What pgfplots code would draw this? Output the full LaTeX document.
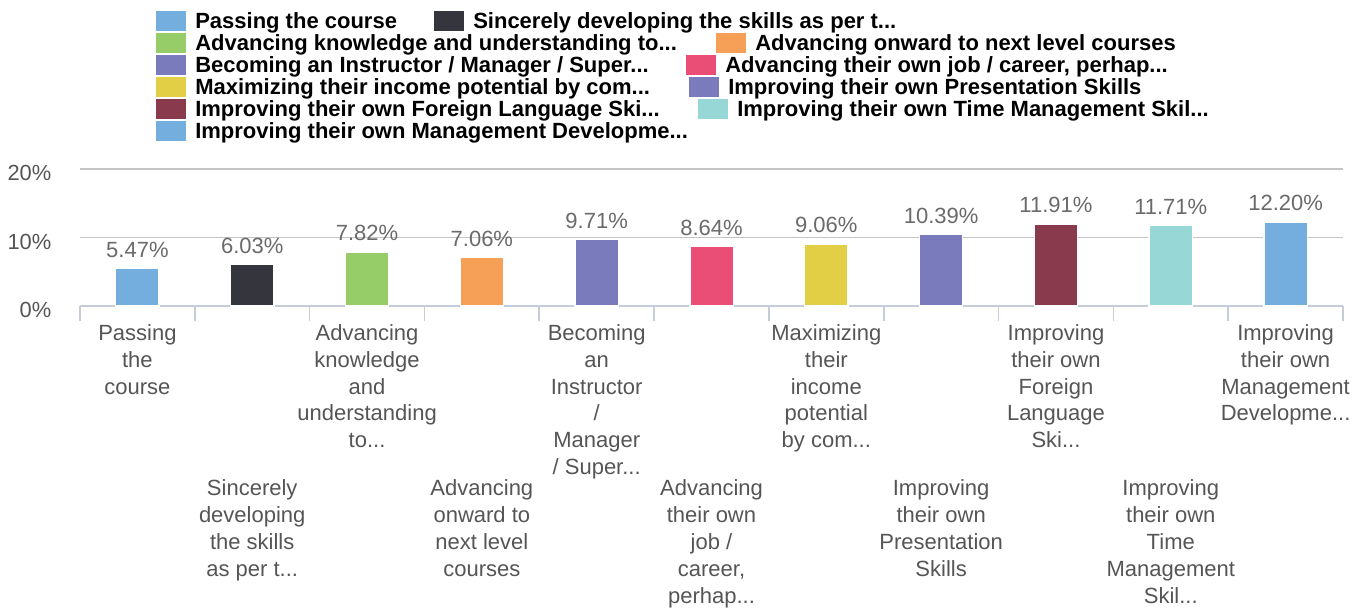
\documentclass[border=0pt]{standalone}
\usepackage{fontspec}
\setmainfont{Liberation Sans}
\usepackage{pgfplots}
\pgfplotsset{compat=1.18}
\newcommand{\dd}{...}
\definecolor{cA}{HTML}{74AEDF}
\definecolor{cB}{HTML}{35353D}
\definecolor{cC}{HTML}{97CD69}
\definecolor{cD}{HTML}{F69F56}
\definecolor{cE}{HTML}{7A7BBD}
\definecolor{cF}{HTML}{EA4E77}
\definecolor{cG}{HTML}{E3CF46}
\definecolor{cH}{HTML}{7A7BBD}
\definecolor{cI}{HTML}{893A4D}
\definecolor{cJ}{HTML}{97D8D7}
\definecolor{cK}{HTML}{74AEDF}
\definecolor{sepc}{HTML}{C6CDD8}
\definecolor{gridc}{HTML}{C4C4C4}
\definecolor{labc}{HTML}{555555}
\definecolor{valc}{HTML}{6A6A6A}
\begin{document}
\begin{tikzpicture}
\useasboundingbox (0,0) rectangle (1023pt,-456.75pt);
\begin{axis}[
  at={(60pt,-229.5pt)}, anchor=south west,
  scale only axis, width=947.25pt, height=102.75pt,
  xmin=-0.5, xmax=10.5, ymin=0, ymax=20,
  clip=false,
  axis x line*=bottom, axis y line*=left,
  x axis line style={-, draw=sepc, line width=1.2pt},
  y axis line style={draw=none},
  ytick={0,10,20}, yticklabels={0\%,10\%,20\%},
  ytick style={draw=none},
  yticklabel style={anchor=east, xshift=-18pt, yshift=-3pt, font=\fontsize{16.4}{19}\selectfont, text=labc},
  ymajorgrids, grid style={draw=gridc, line width=1.1pt},
  xtick={0,...,10},
  xtick style={draw=none},
  xtick align=outside,
  extra x ticks={-0.5,0.5,...,10.5},
  extra x tick labels={},
  extra x tick style={xtick style={draw=sepc, line width=1.2pt}, major tick length=11.25pt, grid=none},
  xticklabel style={anchor=north, align=center, inner sep=0pt, yshift=-9.4pt, font=\fontsize{16.5}{20.1}\selectfont, text=labc},
  xticklabels={
    {Passing\\the\\course},
    {\mbox{}\\[108.5pt]Sincerely\\developing\\the skills\\as per t\dd},
    {Advancing\\knowledge\\and\\understanding\\to\dd},
    {\mbox{}\\[108.5pt]Advancing\\onward to\\next level\\courses},
    {Becoming\\an\\Instructor\\/\\Manager\\/ Super\dd},
    {\mbox{}\\[108.5pt]Advancing\\their own\\job /\\career,\\perhap\dd},
    {Maximizing\\their\\income\\potential\\by com\dd},
    {\mbox{}\\[108.5pt]Improving\\their own\\Presentation\\Skills},
    {Improving\\their own\\Foreign\\Language\\Ski\dd},
    {\mbox{}\\[108.5pt]Improving\\their own\\Time\\Management\\Skil\dd},
    {Improving\\their own\\Management\\Developme\dd}
  },
  /pgf/number format/assume math mode=true,
  nodes near coords={\pgfmathprintnumber[fixed,fixed zerofill,precision=2]{\pgfplotspointmeta}\%},
  every node near coord/.append style={anchor=base, yshift=8.6pt, font=\fontsize{16.5}{19}\selectfont, text=valc},
  every axis plot/.append style={ybar, bar width=32.5pt, bar shift=0pt, draw=white, line width=1pt},
]
\addplot[fill=cA] coordinates {(0,5.47)};
\addplot[fill=cB] coordinates {(1,6.03)};
\addplot[fill=cC] coordinates {(2,7.82)};
\addplot[fill=cD] coordinates {(3,7.06)};
\addplot[fill=cE] coordinates {(4,9.71)};
\addplot[fill=cF] coordinates {(5,8.64)};
\addplot[fill=cG] coordinates {(6,9.06)};
\addplot[fill=cH] coordinates {(7,10.39)};
\addplot[fill=cI] coordinates {(8,11.91)};
\addplot[fill=cJ] coordinates {(9,11.71)};
\addplot[fill=cK] coordinates {(10,12.20)};
\end{axis}
\begin{scope}[x=0.75pt,y=-0.75pt, every node/.style={anchor=base west, inner sep=0pt, font=\bfseries\fontsize{16.5}{19}\selectfont, text=black}]
\fill[cA] (156,11) rectangle (186,31); \node at (195,28.6) {Passing the course};
\fill[cB] (434,11) rectangle (464,31); \node at (473,28.6) {Sincerely developing the skills as per t...};
\fill[cC] (156,33) rectangle (186,53); \node at (195,50.6) {Advancing knowledge and understanding to...};
\fill[cD] (716,33) rectangle (746,53); \node at (755,50.6) {Advancing onward to next level courses};
\fill[cE] (156,55) rectangle (186,75); \node at (195,72.6) {Becoming an Instructor / Manager / Super...};
\fill[cF] (686,55) rectangle (716,75); \node at (725,72.6) {Advancing their own job / career, perhap...};
\fill[cG] (156,77) rectangle (186,97); \node at (195,94.6) {Maximizing their income potential by com...};
\fill[cH] (689,77) rectangle (719,97); \node at (728,94.6) {Improving their own Presentation Skills};
\fill[cI] (156,99) rectangle (186,119); \node at (195,116.6) {Improving their own Foreign Language Ski...};
\fill[cJ] (698,99) rectangle (728,119); \node at (737,116.6) {Improving their own Time Management Skil...};
\fill[cK] (156,121) rectangle (186,141); \node at (195,138.6) {Improving their own Management Developme...};
\end{scope}
\end{tikzpicture}
\end{document}
